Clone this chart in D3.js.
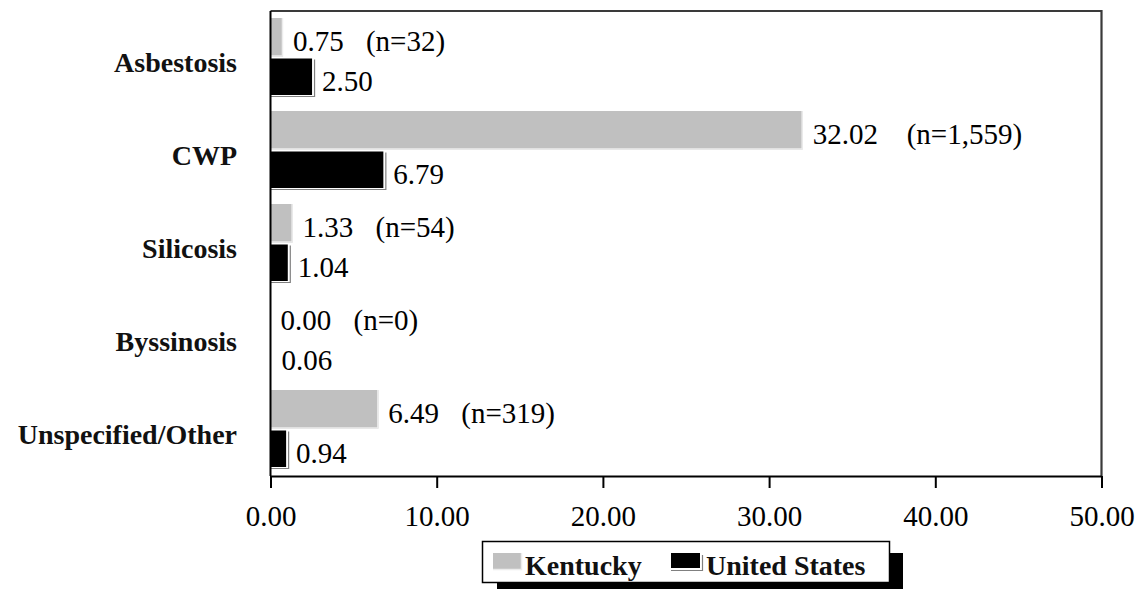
<!DOCTYPE html>
<html>
<head>
<meta charset="utf-8">
<script src="https://cdn.jsdelivr.net/npm/d3@7"></script>
<style>
html,body{margin:0;padding:0;background:#fff;}
svg{display:block;}
</style>
</head>
<body>
<svg id="chart" width="1140" height="589"></svg>
<script>
const categories = ["Asbestosis", "CWP", "Silicosis", "Byssinosis", "Unspecified/Other"];
const seriesNames = ["Kentucky", "United States"];
const kentucky = [0.75, 32.02, 1.33, 0.00, 6.49];
const unitedStates = [2.50, 6.79, 1.04, 0.06, 0.94];
const kentuckyCounts = ["(n=32)", "(n=1,559)", "(n=54)", "(n=0)", "(n=319)"];
const xTicks = [0, 10, 20, 30, 40, 50];
const seriesColors = ["#c0c0c0", "#000000"];

const svg = d3.select("#chart");
const plot = {left: 270.5, right: 1101.5, top: 11, bottom: 476};
const serif = "'Liberation Serif','Times New Roman',serif";

const x = d3.scaleLinear().domain([0, 50]).range([plot.left, plot.right]);
const y = d3.scaleBand().domain(categories).range([plot.top, plot.bottom]).padding(0);
const ys = d3.scaleBand().domain(seriesNames).range([7, y.bandwidth() - 7]).padding(0);

// frame (top and right)
svg.append("path")
  .attr("d", `M${plot.left},${plot.top} H${plot.right} V${plot.bottom}`)
  .attr("fill", "none").attr("stroke", "#3a3a3a").attr("stroke-width", 2.2);

const data = [];
categories.forEach((c, i) => {
  data.push({cat: c, s: seriesNames[0], v: kentucky[i], n: kentuckyCounts[i]});
  data.push({cat: c, s: seriesNames[1], v: unitedStates[i], n: null});
});

const g = svg.append("g");
data.forEach(d => {
  const y0 = y(d.cat) + ys(d.s);
  const h = ys.bandwidth();
  const x1 = x(d.v);
  const w = x1 - x(0);
  if (d.s === seriesNames[0]) {
    if (w > 2) {
      g.append("rect").attr("x", x(0)).attr("y", y0).attr("width", w).attr("height", h - 1)
        .attr("fill", seriesColors[0]);
      g.append("path").attr("d", `M${x1 - 0.5},${y0} V${y0 + h - 1.5} H${x(0)}`)
        .attr("fill", "none").attr("stroke", "#ececec").attr("stroke-width", 1.5);
    }
  } else {
    if (w > 2) {
      g.append("path").attr("d", `M${x1 + 2.5},${y0 + 2} V${y0 + h - 0.5} H${x(0)}`)
        .attr("fill", "none").attr("stroke", "#808080").attr("stroke-width", 1.2);
      g.append("rect").attr("x", x(0)).attr("y", y0 + 1).attr("width", w).attr("height", h - 3)
        .attr("fill", seriesColors[1]);
    }
  }
  const cy = y0 + h / 2;
  const label = d3.format(".2f")(d.v);
  const lx = x1 + 10;
  g.append("text").attr("x", lx).attr("y", cy + 13.5)
    .attr("font-family", serif).attr("font-size", 29).attr("fill", "#000")
    .text(label);
  if (d.n) {
    g.append("text").attr("x", lx + 73 + (label.length - 4) * 21).attr("y", cy + 13.5)
      .attr("font-family", serif).attr("font-size", 29).attr("fill", "#000")
      .text(d.n);
  }
});

// y axis line
svg.append("line").attr("x1", plot.left).attr("x2", plot.left)
  .attr("y1", plot.top).attr("y2", plot.bottom)
  .attr("stroke", "#000").attr("stroke-width", 2);

// category labels
svg.append("g").selectAll("text").data(categories).join("text")
  .attr("x", 237).attr("y", d => y(d) + y.bandwidth() / 2 + 14)
  .attr("text-anchor", "end")
  .attr("font-family", serif).attr("font-size", 28).attr("font-weight", "bold")
  .attr("fill", "#111")
  .text(d => d);

// x axis
const xAxis = d3.axisBottom(x).tickValues(xTicks).tickSize(12).tickPadding(17)
  .tickFormat(d3.format(".2f"));
const ax = svg.append("g").attr("transform", `translate(0,${plot.bottom})`).call(xAxis);
ax.select(".domain").attr("stroke", "#000").attr("stroke-width", 2)
  .attr("d", `M${plot.left},0.5H${plot.right}`);
ax.selectAll(".tick line").attr("stroke", "#000").attr("stroke-width", 2);
ax.selectAll(".tick text").attr("font-family", serif).attr("font-size", 29).attr("fill", "#000");

// legend
const lg = svg.append("g");
lg.append("rect").attr("x", 497).attr("y", 553).attr("width", 406).attr("height", 45).attr("fill", "#000");
lg.append("rect").attr("x", 482.5).attr("y", 541.5).attr("width", 407).attr("height", 41)
  .attr("fill", "#fff").attr("stroke", "#000").attr("stroke-width", 1.5);
const legendItems = [
  {name: seriesNames[0], sx: 493, tx: 525},
  {name: seriesNames[1], sx: 671, tx: 706}
];
legendItems.forEach((it, i) => {
  if (i === 0) {
    lg.append("rect").attr("x", it.sx).attr("y", 553).attr("width", 29).attr("height", 17).attr("fill", seriesColors[0]);
    lg.append("path").attr("d", `M${it.sx + 28.5},553 V569.5 H${it.sx}`).attr("fill", "none").attr("stroke", "#ececec").attr("stroke-width", 1.5);
  } else {
    lg.append("path").attr("d", `M${it.sx + 31.5},555 V570.5 H${it.sx}`).attr("fill", "none").attr("stroke", "#808080").attr("stroke-width", 1.2);
    lg.append("rect").attr("x", it.sx).attr("y", 553).attr("width", 29).attr("height", 15).attr("fill", seriesColors[1]);
  }
  lg.append("text").attr("x", it.tx).attr("y", 575)
    .attr("font-family", serif).attr("font-size", 28).attr("font-weight", "bold").attr("fill", "#111")
    .text(it.name);
});
</script>
</body>
</html>
